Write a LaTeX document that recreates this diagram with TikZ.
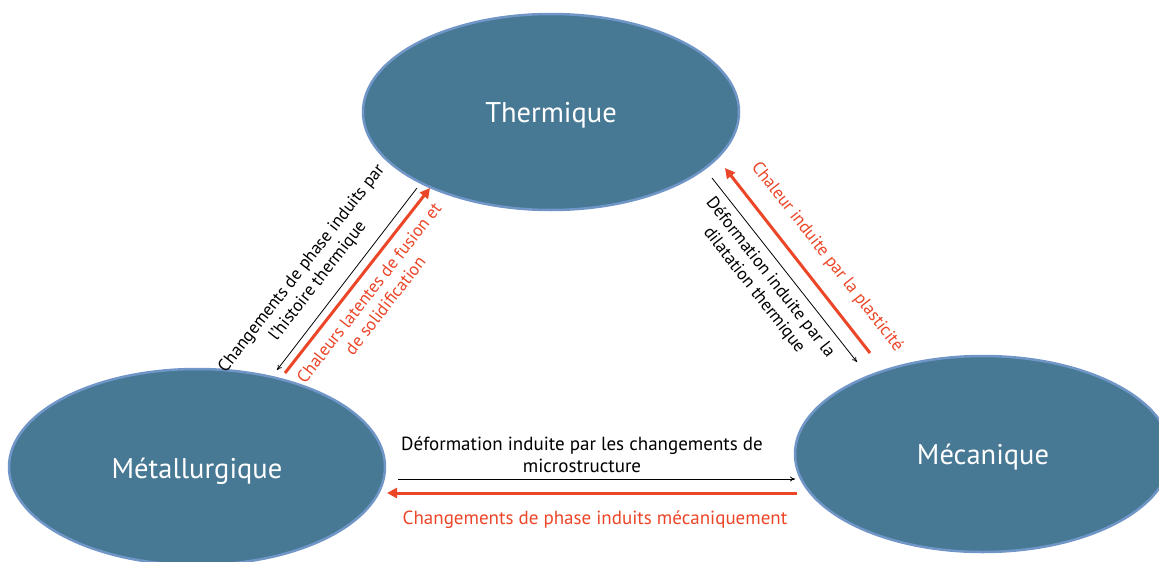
\documentclass[tikz,border=0pt]{standalone}
\usepackage{fontspec}
\setmainfont{PT Sans}
\usetikzlibrary{shapes.geometric,arrows.meta}
\definecolor{ellfill}{RGB}{71,120,148}
\definecolor{ellline}{RGB}{112,150,200}
\definecolor{redarr}{RGB}{236,70,40}
\begin{document}
\begin{tikzpicture}[x=1pt,y=-1pt,
  fieldell/.style={ellipse,draw=ellline,line width=2.5pt,fill=ellfill,text=white,
     minimum width=376pt,minimum height=196pt,inner sep=0pt,font=\fontsize{28.5}{32}\selectfont,
     text height=27pt,text depth=6pt},
  blk/.style={black,line width=0.8pt,-{To[length=5pt,width=5pt]}},
  rd/.style={redarr,line width=3pt,-{Triangle[length=10pt,width=10pt]}},
  lbl/.style={align=center,inner sep=0pt,font=\fontsize{17.5}{20.5}\selectfont},
  lblb/.style={align=center,inner sep=0pt,font=\fontsize{19}{22}\selectfont}]
\useasboundingbox (0,0) rectangle (1159,562);
\fill[white] (0,0) rectangle (1159,562);
\node[fieldell] (T) at (551,112) {Thermique};
\node[fieldell,text height=29pt] (M) at (197,467) {Métallurgique};
\node[fieldell] (C) at (983,454) {Mécanique};
% left pair
\coordinate (a1) at (417,188);
\coordinate (a2) at (277,370);
\coordinate (b1) at (285,373);
\coordinate (b2) at (430,188);
\draw[blk] (a1) -- (a2);
\draw[rd] (b1) -- (b2);
% right pair
\coordinate (c1) at (712,178);
\coordinate (c2) at (857,362);
\coordinate (d1) at (870,353);
\coordinate (d2) at (725,168);
\draw[blk] (c1) -- (c2);
\draw[rd] (d1) -- (d2);
% bottom pair
\coordinate (e1) at (398,479);
\coordinate (e2) at (795,479);
\coordinate (f1) at (797,493);
\coordinate (f2) at (387,493);
\draw[blk] (e1) -- (e2);
\draw[rd] (f1) -- (f2);
% labels
\node[lbl,rotate=52] (l1) at (310,275) {Changements de phase induits par\\l’histoire thermique};
\node[lbl,rotate=52,text=redarr] (l2) at (377,299) {Chaleurs latentes de fusion et\\de solidification};
\node[lbl,rotate=-52] (l3) at (762,284) {Déformation induite par la\\dilatation thermique};
\node[lbl,rotate=-52,text=redarr] (l4) at (827,257) {Chaleur induite par la plasticité};
\node[lblb] (l5) at (582,455) {Déformation induite par les changements de\\microstructure};
\node[lblb,text=redarr] (l6) at (595,520) {Changements de phase induits mécaniquement};
\end{tikzpicture}
\end{document}
